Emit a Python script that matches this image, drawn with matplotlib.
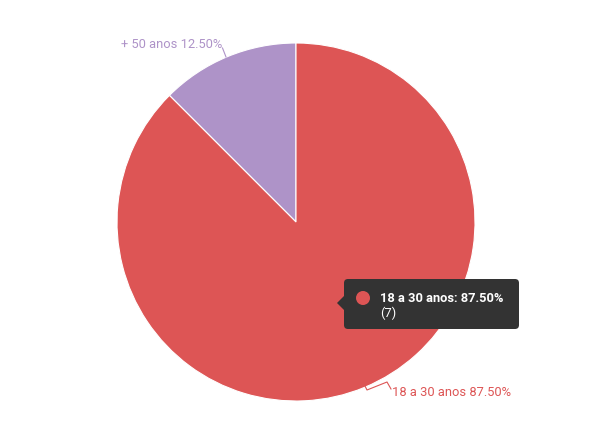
import matplotlib.pyplot as plt
from matplotlib.patches import FancyBboxPatch, Polygon, Circle

plt.rcParams['font.family'] = ['Roboto', 'DejaVu Sans']

labels = ['+ 50 anos', '18 a 30 anos']
counts = [1, 7]
colors = ['#ae93c8', '#dd5555']

total = sum(counts)
pcts = [100.0 * c / total for c in counts]

fig = plt.figure(figsize=(5.94, 4.45), dpi=100)
ax = fig.add_axes([0, 0, 1, 1])
ax.axis('off')

# pie in pixel coordinates (y axis flipped, so draw clockwise to look counterclockwise)
wedges, _ = ax.pie(counts, colors=colors, startangle=-90, counterclock=False,
                   center=(296, 222), radius=179,
                   wedgeprops=dict(edgecolor='white', linewidth=0.8))
ax.set_aspect('equal')
ax.set_xlim(0, 594)
ax.set_ylim(445, 0)

# outside labels with leader lines
ax.plot([222.5, 226], [48, 57], color=colors[0], lw=0.8)
ax.text(121, 45, '%s %.2f%%' % (labels[0], pcts[0]), color=colors[0],
        fontsize=9.3, va='center', ha='left')

ax.plot([365, 367, 387, 391], [386, 390, 382, 389], color=colors[1], lw=0.8)
ax.text(392, 393, '%s %.2f%%' % (labels[1], pcts[1]), color=colors[1],
        fontsize=9.3, va='center', ha='left')

# tooltip
box = FancyBboxPatch((344, 279), 175, 50, boxstyle='round,pad=0,rounding_size=4',
                     facecolor='#333333', edgecolor='none', zorder=5)
ax.add_patch(box)
ax.add_patch(Polygon([[344, 296], [337, 303], [344, 310]], closed=True,
                     facecolor='#333333', edgecolor='none', zorder=5))
ax.add_patch(Circle((363, 298), 7, facecolor=colors[1], edgecolor='none', zorder=6))
ax.text(380, 298, '%s: %.2f%%' % (labels[1], pcts[1]), color='white',
        fontsize=9.3, fontweight='bold', va='center', ha='left', zorder=6)
ax.text(380, 313, '(%d)' % counts[1], color='white', fontsize=9.3,
        va='center', ha='left', zorder=6)

fig.savefig('out.png', dpi=100)
